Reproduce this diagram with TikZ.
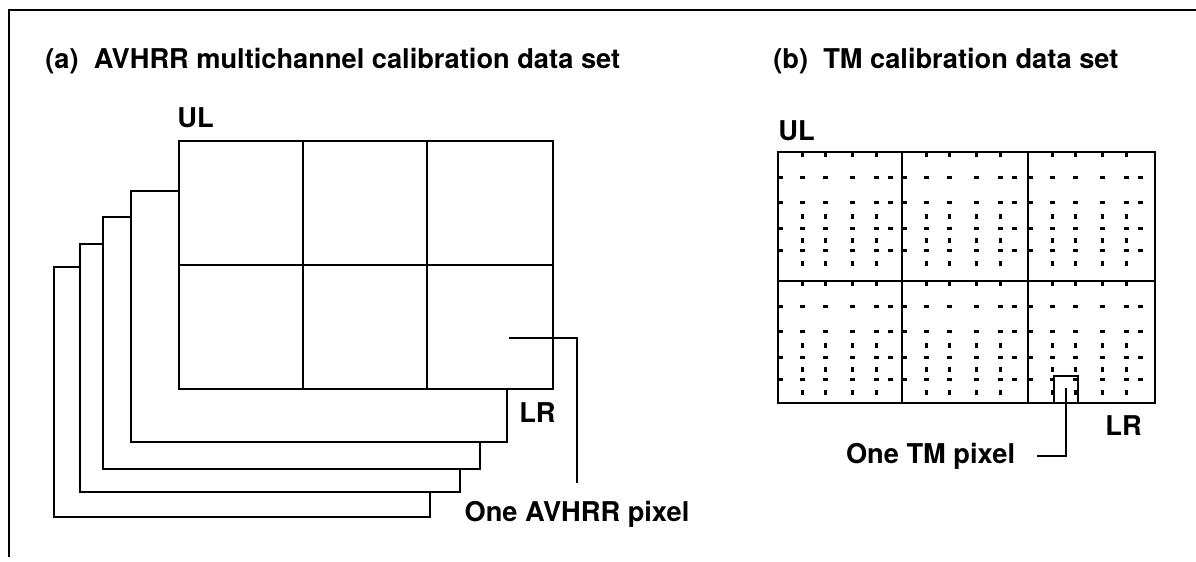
\documentclass[tikz,border=0pt]{standalone}
\usepackage{fontspec}
\setmainfont{TeX Gyre Heros}
\usetikzlibrary{positioning}

\begin{document}
\begin{tikzpicture}[
  x=0.02cm, y=-0.02cm,
  frame/.style={line width=1.4pt},
  grid/.style={line width=1.3pt},
  layer/.style={line width=1.2pt, fill=white},
  lead/.style={line width=1.1pt},
  ttl/.style={font=\fontsize{15.5}{18}\selectfont\bfseries, inner sep=0pt, anchor=base west},
  lbl/.style={font=\fontsize{15.5}{18}\selectfont\bfseries, inner sep=2pt},
  tick/.style={fill=black},
]
\useasboundingbox (0,0) rectangle (1196,561);

% frame
\draw[frame] (9,557) -- (9,10) -- (1196,10);

% titles
\node[ttl] (titleA) at (45,68)  {(a)\ \ AVHRR multichannel calibration data set};
\node[ttl] (titleB) at (773,68) {(b)\ \ TM calibration data set};

% (a) stacked channels, back to front
\foreach \l/\t/\r/\b in {54/267/430/517, 80/244/460/492, 103/217/480/469, 131/191/507/442}
  \draw[layer] (\l,\t) rectangle (\r,\b);
\draw[layer] (179,141) rectangle (553,389);
\draw[grid] (303,141) -- (303,389)
            (427,141) -- (427,389)
            (179,265) -- (553,265);

\node[ttl] (ulA) at (177,127) {UL};
\node[ttl] (lrA) at (519,422) {LR};

\coordinate (avhrrPt) at (509,338);
\node[lbl, anchor=north] (pixA) at (577,497) {One AVHRR pixel};
\draw[lead, shorten >=8pt] (avhrrPt) -| (pixA.north);

% (b) TM grid with sub-pixel marks
\draw[grid] (778,152) rectangle (1155,403);
\draw[grid] (902,152) -- (902,403)
            (1028,152) -- (1028,403)
            (778,281) -- (1155,281);
\foreach \cx in {778,902,1028}
  \foreach \cy in {152,281} {
    \foreach \dx in {24,47,74,98}
      \fill[tick] (\cx+\dx-1.5,\cy) rectangle (\cx+\dx+1.5,\cy+5);
    \foreach \dy in {25,50,76,98} {
      \fill[tick] (\cx,\cy+\dy-1.5) rectangle (\cx+5,\cy+\dy+1.5);
      \foreach \dx in {24,47,74,98,112}
        \fill[tick] (\cx+\dx-2.5,\cy+\dy-1.5) rectangle (\cx+\dx+2.5,\cy+\dy+2);
    }
    \foreach \dy in {64,88,111}
      \foreach \dx in {24,47,74,98}
        \fill[tick] (\cx+\dx-1.5,\cy+\dy-2.5) rectangle (\cx+\dx+1.5,\cy+\dy+2.5);
  }

\node[ttl] (ulB) at (778,140) {UL};
\node[ttl] (lrB) at (1105,435) {LR};

\draw[grid] (1054,403) -- (1054,376) -- (1078,376) -- (1078,403);
\coordinate (tmPt) at (1066,388);
\node[lbl, anchor=east] (pixB) at (1019,456) {One TM pixel};
\draw[lead, shorten >=10pt] (tmPt) |- (pixB.east);
\end{tikzpicture}
\end{document}
